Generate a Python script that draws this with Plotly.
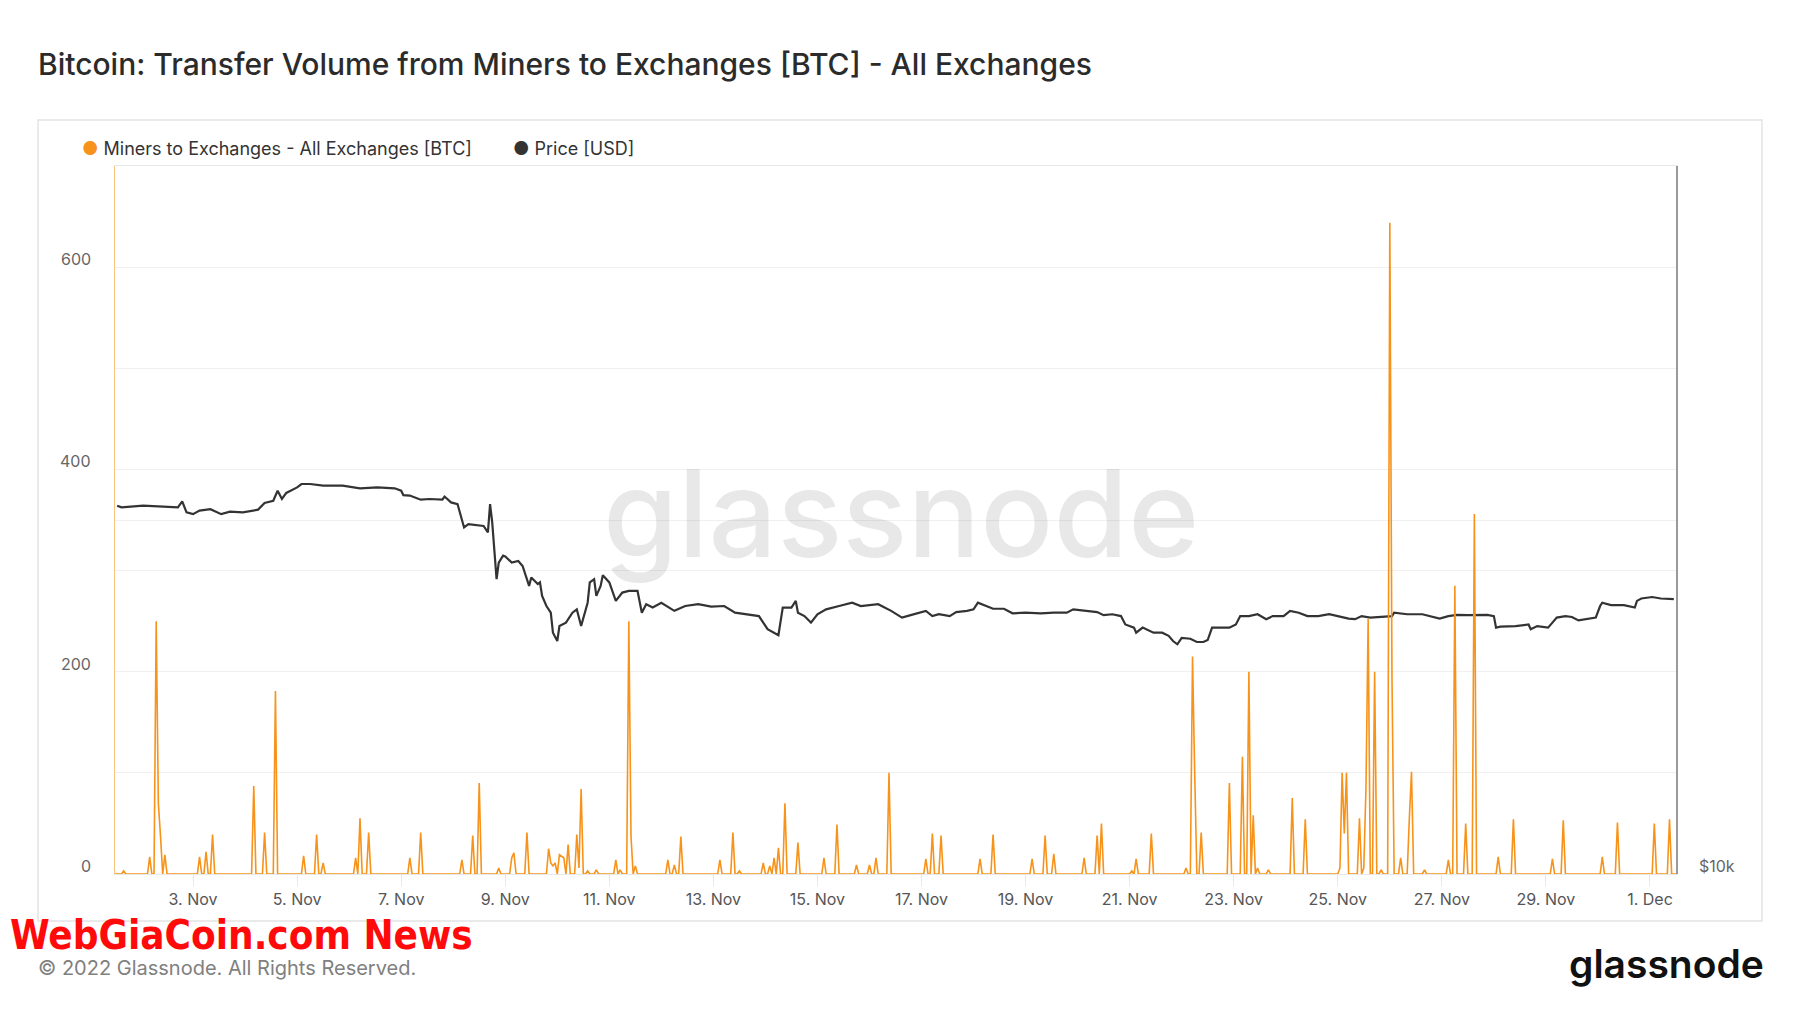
import pandas as pd
import plotly.graph_objects as go

# ---------------- data ----------------
START = "2022-11-01 12:00"   # first hour shown on the x axis
END = "2022-12-01 12:00"

# Miners -> Exchanges transfer volume [BTC], hourly, hours since START
miner_hours = [
    0, 3, 4, 5, 15, 16, 17, 18, 19, 20, 21, 22, 23, 24, 38, 39, 40, 41, 42, 43,
    44, 45, 46, 63, 64, 65, 68, 69, 70, 73, 74, 75, 86, 87, 88, 92, 93, 94, 95, 96,
    97, 110, 111, 112, 113, 114, 116, 117, 118, 135, 136, 137, 140, 141, 142, 159, 160, 161, 164, 165,
    166, 167, 168, 169, 176, 177, 178, 182, 183, 184, 185, 189, 190, 191, 199, 200, 201, 202, 203, 204,
    205, 206, 207, 208, 209, 210, 212, 213, 214, 215, 216, 217, 218, 219, 221, 222, 223, 230, 231, 232,
    233, 234, 236, 237, 238, 239, 240, 241, 254, 255, 256, 257, 258, 259, 260, 261, 262, 278, 279, 280,
    284, 285, 286, 287, 288, 289, 298, 299, 300, 301, 302, 303, 304, 305, 306, 307, 308, 309, 310, 314,
    315, 316, 326, 327, 328, 332, 333, 334, 341, 342, 343, 347, 348, 349, 350, 351, 352, 356, 357, 358,
    373, 374, 375, 376, 377, 378, 380, 381, 382, 398, 399, 400, 404, 405, 406, 422, 423, 424, 428, 429,
    430, 432, 433, 434, 446, 447, 448, 452, 453, 454, 455, 456, 468, 469, 470, 471, 472, 477, 478, 479,
    493, 494, 495, 496, 497, 498, 499, 500, 501, 502, 513, 514, 515, 519, 520, 521, 522, 523, 524, 525,
    526, 527, 528, 531, 532, 533, 542, 543, 544, 548, 549, 550, 564, 565, 566, 567, 568, 569, 573, 574,
    575, 576, 577, 578, 579, 580, 581, 582, 583, 584, 585, 587, 588, 589, 590, 592, 593, 594, 596, 597,
    598, 599, 603, 604, 605, 614, 615, 616, 617, 618, 619, 622, 623, 624, 626, 627, 628, 637, 638, 639,
    644, 645, 646, 662, 663, 664, 667, 668, 669, 685, 686, 687, 692, 693, 694, 709, 710, 711, 716, 717,
    718, 720,
]
miner_btc = [
    0, 0, 3, 0, 0, 17, 0, 0, 250, 70, 37, 0, 19, 0, 0, 17, 0, 0, 22, 0,
    0, 39, 0, 0, 87, 0, 0, 41, 0, 0, 181, 0, 0, 18, 0, 0, 39, 0, 0, 11,
    0, 0, 16, 0, 55, 0, 0, 41, 0, 0, 16, 0, 0, 41, 0, 0, 14, 0, 0, 38,
    0, 0, 90, 0, 0, 6, 0, 0, 16, 21, 0, 0, 41, 0, 0, 25, 11, 8, 11, 0,
    19, 17, 16, 0, 29, 0, 0, 39, 6, 84, 0, 0, 3, 0, 0, 4, 0, 0, 14, 0,
    4, 0, 0, 250, 37, 0, 8, 0, 0, 14, 0, 0, 9, 0, 0, 37, 0, 0, 14, 0,
    0, 41, 0, 0, 3, 0, 0, 11, 0, 0, 8, 0, 16, 0, 26, 0, 0, 70, 0, 0,
    31, 0, 0, 16, 0, 0, 49, 0, 0, 9, 0, 0, 9, 0, 0, 16, 0, 0, 100, 0,
    0, 15, 0, 0, 40, 0, 0, 38, 0, 0, 15, 0, 0, 39, 0, 0, 15, 0, 0, 38,
    0, 0, 20, 0, 0, 16, 0, 0, 38, 0, 50, 0, 0, 3, 0, 15, 0, 0, 40, 0,
    0, 6, 0, 0, 215, 100, 0, 0, 41, 0, 0, 90, 0, 0, 116, 0, 0, 200, 0, 58,
    0, 6, 0, 0, 4, 0, 0, 75, 0, 0, 54, 0, 0, 6, 100, 40, 100, 0, 0, 55,
    0, 6, 85, 252, 0, 0, 200, 0, 0, 4, 0, 0, 644, 194, 0, 0, 16, 0, 0, 55,
    101, 0, 0, 4, 0, 0, 14, 0, 0, 285, 0, 0, 50, 0, 0, 356, 0, 0, 17, 0,
    0, 54, 0, 0, 15, 0, 0, 53, 0, 0, 17, 0, 0, 51, 0, 0, 50, 0, 0, 54,
    0, 0,
]

# Price [USD], hours since START
price_hours = [
    1, 3, 13, 21, 29, 31, 33, 36, 39, 44, 49, 53, 59, 66, 69, 73, 75, 77, 79, 84,
    86, 90, 96, 105, 113, 121, 129, 132, 133, 136, 141, 145, 151, 152, 155, 158, 161, 163, 167, 170,
    172, 173, 174, 175, 176, 177, 179, 180, 183, 186, 188, 191, 192, 195, 196, 197, 199, 201, 202, 204,
    205, 208, 211, 213, 215, 218, 219, 221, 222, 224, 225, 228, 231, 234, 237, 241, 243, 245, 248, 252,
    258, 263, 269, 275, 281, 286, 291, 297, 301, 304, 306, 308, 312, 314, 315, 318, 321, 324, 328, 334,
    340, 344, 352, 358, 363, 367, 371, 374, 377, 380, 385, 388, 393, 396, 398, 400, 405, 410, 414, 420,
    427, 433, 439, 442, 448, 453, 456, 460, 464, 466, 470, 471, 474, 479, 483, 486, 488, 490, 492, 496,
    499, 502, 504, 506, 510, 514, 517, 519, 523, 527, 531, 534, 539, 542, 546, 550, 555, 560, 564, 569,
    572, 575, 579, 584, 589, 590, 596, 603, 607, 611, 615, 619, 624, 629, 633, 636, 637, 639, 646, 652,
    653, 656, 661, 663, 665, 669, 672, 675, 679, 683, 685, 686, 690, 696, 701, 702, 704, 709, 713, 719,
]
price_usd = [
    20570, 20500, 20570, 20530, 20500, 20740, 20300, 20230, 20370, 20430, 20230, 20330, 20300, 20410, 20680, 20770, 21180, 20840, 21090, 21320,
    21460, 21460, 21390, 21390, 21280, 21320, 21280, 21180, 21000, 20980, 20810, 20840, 20810, 20940, 20700, 20630, 19710, 19840, 19800, 19770,
    19520, 20630, 19900, 18890, 17810, 18400, 18650, 18620, 18400, 18460, 18280, 17580, 17870, 17640, 17700, 17240, 16900, 16680, 16040, 15780,
    16250, 16360, 16680, 16790, 16250, 17010, 17700, 17810, 17240, 17580, 17950, 17700, 17070, 17350, 17410, 17410, 16680, 16960, 16850, 17010,
    16740, 16900, 16960, 16880, 16900, 16680, 16630, 16570, 16150, 16040, 15960, 16850, 16850, 17070, 16680, 16570, 16360, 16630, 16790, 16900,
    17010, 16900, 16960, 16740, 16520, 16600, 16680, 16740, 16570, 16630, 16570, 16700, 16740, 16790, 17010, 16960, 16810, 16810, 16660, 16680,
    16660, 16680, 16680, 16790, 16740, 16700, 16600, 16630, 16570, 16300, 16200, 16040, 16200, 16040, 16040, 15940, 15780, 15680, 15880, 15850,
    15750, 15750, 15810, 16200, 16200, 16200, 16300, 16570, 16570, 16630, 16470, 16570, 16570, 16740, 16680, 16570, 16570, 16630, 16570, 16490,
    16470, 16570, 16520, 16550, 16570, 16680, 16630, 16630, 16570, 16490, 16570, 16610, 16600, 16600, 16610, 16570, 16200, 16230, 16250, 16300,
    16150, 16250, 16200, 16360, 16520, 16570, 16540, 16430, 16470, 16520, 16900, 17010, 16930, 16930, 16850, 17070, 17150, 17200, 17150, 17130,
]

btc_grid_vals = [0, 100, 200, 300, 400, 500, 600, 700]
btc_label_vals = [0, 200, 400, 600]
btc_label_text = ["0", "200", "400", "600"]
price_grid_vals = [10000, 20000]
price_label_text = "$10k"
date_ticks = ["2022-11-03", "2022-11-05", "2022-11-07", "2022-11-09", "2022-11-11",
              "2022-11-13", "2022-11-15", "2022-11-17", "2022-11-19", "2022-11-21",
              "2022-11-23", "2022-11-25", "2022-11-27", "2022-11-29", "2022-12-01"]

TITLE = "Bitcoin: Transfer Volume from Miners to Exchanges [BTC] - All Exchanges"
LEGEND_MINERS = "Miners to Exchanges - All Exchanges [BTC]"
LEGEND_PRICE = "Price [USD]"

# ---------------- figure ----------------
t0 = pd.Timestamp(START)
miner_x = t0 + pd.to_timedelta(miner_hours, unit="h")
price_x = t0 + pd.to_timedelta(price_hours, unit="h")

ORANGE = "#F7931A"
DARK = "#333333"
W, H = 1800, 1013
L, R, T, B = 115, 124, 166, 139
PW, PH = W - L - R, H - T - B


def px(x):
    return (x - L) / PW


def py(y):
    return (H - B - y) / PH


FONT = "Inter"

fig = go.Figure()
fig.add_trace(go.Scatter(
    x=price_x, y=price_usd, mode="lines", yaxis="y",
    line=dict(color=DARK, width=2.2), name=LEGEND_PRICE, showlegend=False,
))
fig.add_trace(go.Scatter(
    x=miner_x, y=miner_btc, mode="lines", yaxis="y2",
    line=dict(color=ORANGE, width=1.6), name=LEGEND_MINERS, showlegend=False,
))

fig.update_layout(
    width=W, height=H,
    margin=dict(l=L, r=R, t=T, b=B),
    paper_bgcolor="white", plot_bgcolor="white",
    font=dict(family=FONT, color="#555555", size=16),
    title=dict(text=TITLE, x=38 / W, xref="container", xanchor="left",
               y=1 - 64 / H, yref="container", yanchor="middle",
               font=dict(family=FONT, size=30, color="#2b2b2b", weight=500)),
    xaxis=dict(type="date", range=[START, END], tickvals=date_ticks,
               tickformat="%-d. %b", showgrid=False, ticks="outside", ticklen=11,
               tickcolor="#e8e8e8", showline=True, linecolor="#e8e8e8", linewidth=1,
               mirror=True, tickfont=dict(size=16, color="#555555"), zeroline=False),
    yaxis=dict(type="log", side="right", range=[4, 4.60206],
               tickvals=price_grid_vals, showticklabels=False,
               showgrid=True, gridcolor="#f0f0f0", gridwidth=1,
               showline=True, linecolor="#9a9a9a", linewidth=1.5,
               ticks="", zeroline=False),
    yaxis2=dict(overlaying="y", side="left", range=[0, 700],
                tickvals=btc_grid_vals, showticklabels=False,
                showgrid=True, gridcolor="#f0f0f0", gridwidth=1,
                showline=True, linecolor="rgba(247,147,26,0.55)", linewidth=1,
                ticks="", zeroline=False),
    showlegend=False,
)

# chart card border
fig.add_shape(type="rect", xref="paper", yref="paper",
              x0=px(38), x1=px(1762), y0=py(921), y1=py(120),
              line=dict(color="#e3e3e3", width=1.5), fillcolor="rgba(0,0,0,0)", layer="below")

ann = []
# left axis labels (sit slightly above their grid lines)
for v, s in zip(btc_label_vals, btc_label_text):
    ann.append(dict(xref="paper", yref="y2", x=px(93), y=v, yshift=8,
                    xanchor="right", yanchor="middle", showarrow=False, text=s,
                    font=dict(family=FONT, size=16, color="#666666")))
# right axis label
ann.append(dict(xref="paper", yref="paper", x=px(1697), y=0, yshift=8,
                xanchor="left", yanchor="middle", showarrow=False, text=price_label_text,
                font=dict(family=FONT, size=16, color="#666666")))
# legend
ann.append(dict(xref="paper", yref="paper", x=px(80), y=py(148), xanchor="left", yanchor="middle",
                showarrow=False,
                text=f"<span style='color:{ORANGE}'>●</span> {LEGEND_MINERS}",
                font=dict(family=FONT, size=18, color="#333333")))
ann.append(dict(xref="paper", yref="paper", x=px(511), y=py(148), xanchor="left", yanchor="middle",
                showarrow=False,
                text=f"<span style='color:{DARK}'>●</span> {LEGEND_PRICE}",
                font=dict(family=FONT, size=18, color="#333333")))
# watermark
ann.append(dict(xref="paper", yref="paper", x=px(901), y=py(513), xanchor="center", yanchor="middle",
                showarrow=False, text="glassnode",
                font=dict(family=FONT, size=121, color="rgba(0,0,0,0.09)", weight=500)))
# footer
ann.append(dict(xref="paper", yref="paper", x=px(36), y=py(968), xanchor="left", yanchor="middle",
                showarrow=False, text="© 2022 Glassnode. All Rights Reserved.",
                font=dict(family=FONT, size=20, color="#808080")))
ann.append(dict(xref="paper", yref="paper", x=px(1766), y=py(963), xanchor="right", yanchor="middle",
                showarrow=False, text="glassnode",
                font=dict(family=FONT, size=39, color="#111111", weight=600)))
ann.append(dict(xref="paper", yref="paper", x=px(8), y=py(935), xanchor="left", yanchor="middle",
                showarrow=False, text="<b>WebGiaCoin.com News</b>",
                font=dict(family="DejaVu Sans Condensed", size=40, color="#ff0a0a")))
fig.update_layout(annotations=ann)

fig.write_html("out.html", config={"displayModeBar": False},
               post_script="document.body.style.margin='0px';")
